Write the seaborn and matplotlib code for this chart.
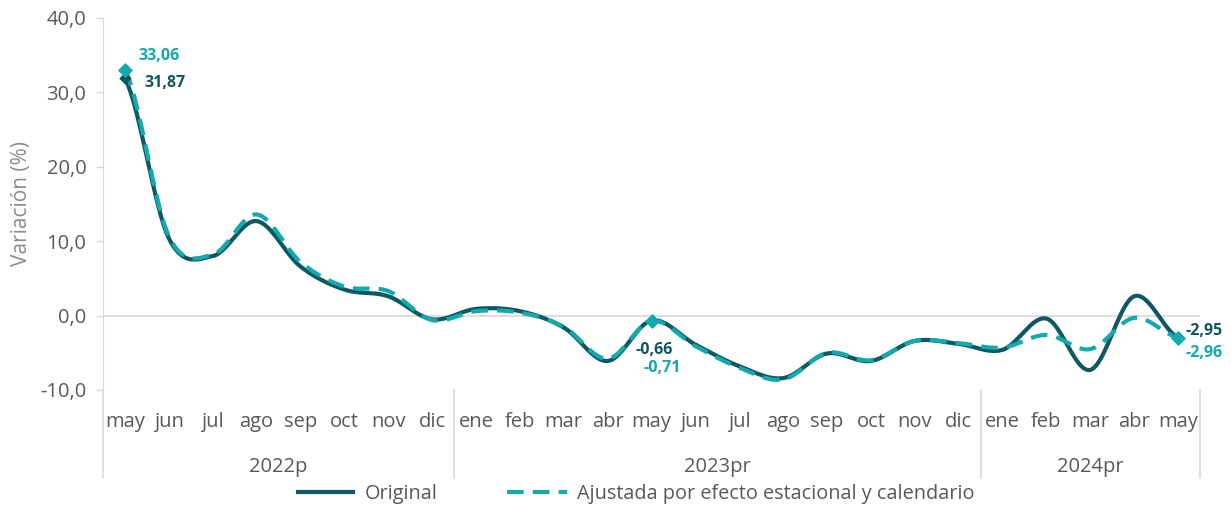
import numpy as np
import pandas as pd
import matplotlib.pyplot as plt
import seaborn as sns

# Data (monthly variation, %)
months = ['may', 'jun', 'jul', 'ago', 'sep', 'oct', 'nov', 'dic',
          'ene', 'feb', 'mar', 'abr', 'may', 'jun', 'jul', 'ago', 'sep', 'oct', 'nov', 'dic',
          'ene', 'feb', 'mar', 'abr', 'may']
years = ['2022p', '2023pr', '2024pr']
year_sizes = [8, 12, 5]
original = [31.87, 10.4, 8.0, 12.7, 6.6, 3.5, 2.6, -0.5,
            0.9, 0.6, -1.6, -6.1, -0.66, -3.9, -6.8, -8.4, -5.1, -6.1, -3.4, -3.8,
            -4.6, -0.4, -7.3, 2.6, -2.95]
ajustada = [33.06, 10.7, 8.2, 13.6, 7.2, 3.9, 3.3, -0.6,
            0.6, 0.4, -1.5, -5.8, -0.71, -4.1, -7.0, -8.6, -5.0, -6.0, -3.4, -3.7,
            -4.3, -2.6, -4.5, -0.3, -2.96]
label_idx = [0, 12, 24]

dark = '#0D5862'
light = '#12A9AF'
grey = '#595959'


def smooth(vals, n=24):
    # Catmull-Rom curve through the points, like Excel's smoothed line
    v = np.asarray(vals, dtype=float)
    xs, ys = [], []
    for i in range(len(v) - 1):
        p0 = v[i - 1] if i > 0 else v[i]
        p1, p2 = v[i], v[i + 1]
        p3 = v[i + 2] if i + 2 < len(v) else v[i + 1]
        t = np.linspace(0, 1, n, endpoint=False)
        y = 0.5 * (2 * p1 + (-p0 + p2) * t + (2 * p0 - 5 * p1 + 4 * p2 - p3) * t ** 2
                   + (-p0 + 3 * p1 - 3 * p2 + p3) * t ** 3)
        xs.extend(i + t)
        ys.extend(y)
    xs.append(len(v) - 1)
    ys.append(v[-1])
    return np.array(xs), np.array(ys)


sns.set_style('white')
plt.rcParams['font.family'] = ['Open Sans', 'DejaVu Sans']

fig = plt.figure(figsize=(12.31, 5.08), dpi=100)
ax = fig.add_axes([103 / 1231, 1 - 390 / 508, (1200 - 103) / 1231, (390 - 18) / 508])

xo, yo = smooth(original)
xa, ya = smooth(ajustada)
df = pd.DataFrame({'x': np.concatenate([xo, xa]), 'y': np.concatenate([yo, ya]),
                   'serie': ['Original'] * len(xo) + ['Ajustada por efecto estacional y calendario'] * len(xa)})
sns.lineplot(data=df, x='x', y='y', hue='serie', style='serie',
             palette=[dark, light], dashes=[(1, 0), (4, 2.2)], linewidth=3, ax=ax, sort=False)

# diamond markers at the labelled points
ax.scatter(label_idx, [ajustada[i] for i in label_idx], marker='D', s=45, color=light, zorder=5)
ax.scatter(label_idx, [original[i] for i in label_idx], marker='D', s=30, color=dark, zorder=4)

fmt = lambda v: f'{v:.2f}'.replace('.', ',')
lab = dict(textcoords='offset points', fontsize=11.5, fontweight='bold', va='center')
ax.annotate(fmt(ajustada[0]), (0, ajustada[0]), xytext=(9.5, 10), color=light, **lab)
ax.annotate(fmt(original[0]), (0, original[0]), xytext=(14, -3.6), color=dark, **lab)
ax.annotate(fmt(original[12]), (12, original[12]), xytext=(2, -21), color=dark, ha='center', **lab)
ax.annotate(fmt(ajustada[12]), (12, ajustada[12]), xytext=(7.5, -34), color=light, ha='center', **lab)
ax.annotate(fmt(original[24]), (24, original[24]), xytext=(5, 4.5), color=dark, **lab)
ax.annotate(fmt(ajustada[24]), (24, ajustada[24]), xytext=(5, -11), color=light, **lab)

ax.set_xlim(-0.5, len(months) - 0.5)
ax.set_ylim(-10, 40)
ax.set_yticks(range(-10, 41, 10))
ax.set_yticklabels([f'{v:.1f}'.replace('.', ',') for v in range(-10, 41, 10)], fontsize=14.5, color=grey)
ax.tick_params(axis='y', length=5, color='#D9D9D9', width=1, pad=7, left=True)
ax.set_xticks([])
ax.set_xlabel('')
ax.set_ylabel('Variación (%)', fontsize=15, color='#8C8C8C', labelpad=6)
for s in ['top', 'right', 'bottom']:
    ax.spines[s].set_visible(False)
ax.spines['left'].set_color('#D9D9D9')
ax.axhline(0, color='#D9D9D9', lw=1.2, zorder=0)

# category labels: months and years
tr = ax.get_xaxis_transform()
for i, m in enumerate(months):
    ax.text(i, -32 / 372, m, transform=tr, ha='center', va='center', fontsize=14.5, color=grey)
edges = np.concatenate([[0], np.cumsum(year_sizes)]) - 0.5
for k, yl in enumerate(years):
    ax.text((edges[k] + edges[k + 1]) / 2, -77 / 372, yl, transform=tr,
            ha='center', va='center', fontsize=14.5, color=grey)
for e in edges:
    ax.plot([e, e], [0, -88 / 372], transform=tr, color='#D9D9D9', lw=1.2, clip_on=False)

ax.legend(handles=ax.get_legend().legend_handles, labels=['Original', 'Ajustada por efecto estacional y calendario'],
          loc='center', bbox_to_anchor=(635 / 1231, 1 - 494 / 508), bbox_transform=fig.transFigure,
          ncol=2, frameon=False, fontsize=14.3, handlelength=3, handletextpad=0.5,
          columnspacing=3.5, labelcolor=grey)

fig.savefig('out.png', dpi=100)
